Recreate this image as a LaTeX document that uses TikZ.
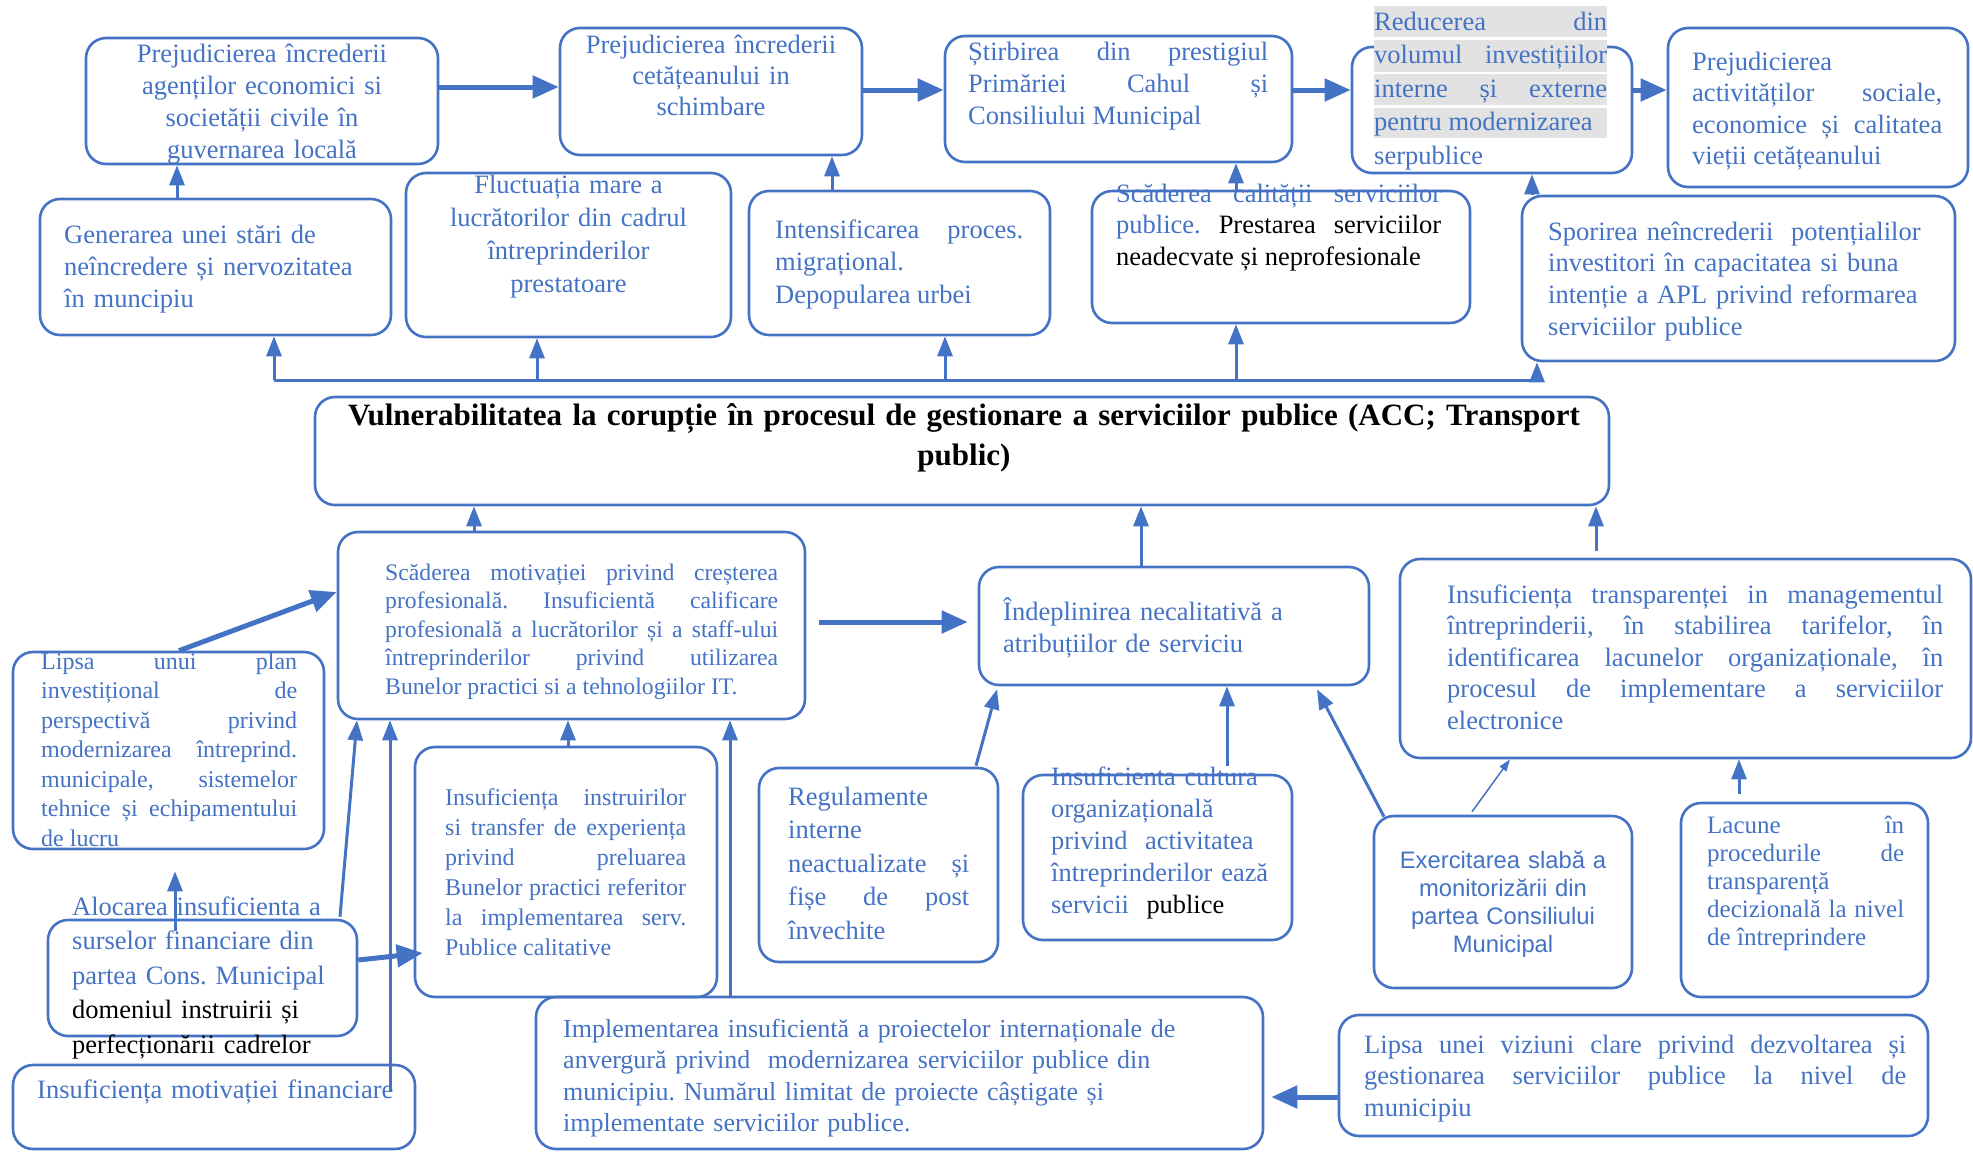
\documentclass[tikz,border=0pt]{standalone}
\usepackage{fontspec}
\setmainfont{Liberation Serif}
\newfontfamily\arialfam{Liberation Sans}
\usetikzlibrary{arrows.meta}
\definecolor{cblue}{RGB}{68,114,196}
\definecolor{hlgrey}{RGB}{226,226,226}
\tolerance=9999
\hbadness=10000
\hyphenpenalty=10000
\exhyphenpenalty=10000
\frenchspacing

\begin{document}
\begin{tikzpicture}[x=1pt, y=-1pt,
  box/.style={draw=cblue, line width=2.6pt, rounded corners=20pt, inner sep=0pt},
  txt/.style={text=cblue, inner sep=0pt, font=\fontsize{26.5}{32}\selectfont},
  wire/.style={draw=cblue, line width=3pt},
  arr/.style={wire, -{Triangle[length=20pt,width=15pt]}},
  bigarr/.style={draw=cblue, line width=5pt, -{Triangle[length=26pt,width=22pt]}},
  thinarr/.style={draw=cblue, line width=1.5pt, -{Triangle[length=12pt,width=8pt]}}]
  \useasboundingbox (0,0) rectangle (1973,1152);

  \node[box, minimum width=352, minimum height=126] (b1) at (262,101) {};
  \node[box, minimum width=302, minimum height=127] (b2) at (711,91.5) {};
  \node[box, minimum width=347, minimum height=126] (b3) at (1118.5,99) {};
  \node[box, minimum width=280, minimum height=126] (b4) at (1492,110) {};
  \node[box, minimum width=300, minimum height=159] (b5) at (1818,107.5) {};
  \node[box, minimum width=351, minimum height=136] (c1) at (215.5,267) {};
  \node[box, minimum width=325, minimum height=164] (c2) at (568.5,255) {};
  \node[box, minimum width=301, minimum height=144] (c3) at (899.5,263) {};
  \node[box, minimum width=378, minimum height=132] (c4) at (1281,257) {};
  \node[box, minimum width=433, minimum height=165] (c5) at (1738.5,278.5) {};
  \node[box, minimum width=1294, minimum height=108] (main) at (962,451) {};
  \node[box, minimum width=467, minimum height=187] (d1) at (571.5,625.5) {};
  \node[box, minimum width=390, minimum height=118] (e1) at (1174,626) {};
  \node[box, minimum width=571, minimum height=199] (f1) at (1685.5,658.5) {};
  \node[box, minimum width=311, minimum height=197] (g1) at (168.5,750.5) {};
  \node[box, minimum width=309, minimum height=116] (g2) at (202.5,978) {};
  \node[box, minimum width=402, minimum height=84] (g3) at (214,1107) {};
  \node[box, minimum width=302, minimum height=250] (h1) at (566,872) {};
  \node[box, minimum width=239, minimum height=194] (i1) at (878.5,865) {};
  \node[box, minimum width=727, minimum height=152] (i2) at (899.5,1073) {};
  \node[box, minimum width=269, minimum height=165] (i3) at (1157.5,857.5) {};
  \node[box, minimum width=258, minimum height=172] (j1) at (1503,902) {};
  \node[box, minimum width=247, minimum height=194] (k1) at (1804.5,900) {};
  \node[box, minimum width=589, minimum height=121] (l1) at (1633.5,1075.5) {};

  \fill[hlgrey] (1374,6) rectangle (1607,37);
  \fill[hlgrey] (1374,40) rectangle (1607,72);
  \fill[hlgrey] (1374,74) rectangle (1607,105);
  \fill[hlgrey] (1374,108) rectangle (1607,138);

  \draw[bigarr] ([yshift=14]b1.east) -- ([yshift=4.5]b2.west);
  \draw[bigarr] ([yshift=1.5]b2.east) -- ([yshift=9]b3.west);
  \draw[bigarr] ([yshift=9]b3.east) -- ([yshift=20]b4.west);
  \draw[bigarr] ([yshift=20]b4.east) -- ([yshift=17.5]b5.west);
  \draw[arr] ([xshift=-38.5]c1.north) -- ([xshift=-85]b1.south);
  \draw[arr] ([xshift=-67.5]c3.north) -- ([xshift=121]b2.south);
  \draw[arr] ([xshift=-45]c4.north) -- ([xshift=117.5]b3.south);
  \draw[arr] ([xshift=-206.5]c5.north) -- ([xshift=40]b4.south);

  \coordinate (bus1) at (274,380);
  \coordinate (bus2) at (537,380);
  \coordinate (bus3) at (945,380);
  \coordinate (bus4) at (1236,380);
  \coordinate (bus5) at (1537,380);
  \draw[wire] (bus1) -- (bus5);
  \draw[arr] (bus1) -- (bus1 |- c1.south);
  \draw[arr] (bus2) -- (bus2 |- c2.south);
  \draw[arr] (bus3) -- (bus3 |- c3.south);
  \draw[arr] (bus4) -- (bus4 |- c4.south);
  \draw[arr] (bus5) -- (bus5 |- c5.south);

  \draw[arr] ([xshift=-97.5]d1.north) -- ([xshift=-488]main.south);
  \draw[arr] ([xshift=-33]e1.north) -- ([xshift=179]main.south);
  \draw[arr] ([xshift=-89.5,yshift=7]f1.north) -- ([xshift=634]main.south);
  \draw[bigarr] ([xshift=13,yshift=3.5]d1.east) -- ([xshift=-10,yshift=4]e1.west);
  \draw[bigarr] ([xshift=10.5]g1.north) -- ([yshift=33.5]d1.west);
  \draw[arr] ([xshift=-27.5,yshift=-12]g2.north) -- ([xshift=6.5,yshift=-21]g1.south);
  \draw[arr] ([xshift=137.5,yshift=2]g2.north) -- ([xshift=-214.5]d1.south);
  \draw[arr] ([xshift=176,yshift=-28]g3.north) -- ([xshift=-181.5]d1.south);
  \draw[bigarr] ([yshift=18]g2.east) -- ([xshift=9,yshift=-81]h1.west);
  \draw[arr] ([xshift=2]h1.north) -- ([xshift=-3.5]d1.south);
  \draw[arr] ([xshift=-169.5]i2.north) -- ([xshift=158.5]d1.south);
  \draw[arr] ([xshift=97.5,yshift=1]i1.north) -- ([xshift=-177,yshift=-3]e1.south);
  \draw[arr] ([xshift=69.5,yshift=8]i3.north) -- ([xshift=53]e1.south);
  \draw[arr] ([xshift=-119,yshift=-2]j1.north) -- ([xshift=143,yshift=-3]e1.south);
  \draw[thinarr] ([xshift=-31,yshift=3]j1.north) -- ([xshift=-175.5]f1.south);
  \draw[arr] ([xshift=-65.5,yshift=8]k1.north) -- ([xshift=53.5]f1.south);
  \draw[bigarr] ([yshift=-21.5]l1.west) -- ([xshift=7,yshift=-24]i2.east);

  \node[txt, text width=340, align=center, anchor=base] (b1t) at (262,62)
    {Prejudicierea încrederii\\ agenților economici si\\ societății civile în\\ guvernarea locală};
  \node[txt, text width=290, align=center, anchor=base, font=\fontsize{26.5}{31}\selectfont] (b2t) at (711,53)
    {Prejudicierea încrederii\\ cetățeanului in\\ schimbare};
  \node[txt, text width=300, align=justify, anchor=base west] (b3t) at (968,60)
    {Știrbirea din prestigiul\linebreak Primăriei Cahul și\linebreak Consiliului Municipal};
  \node[txt, text width=233, align=justify, anchor=base west, font=\fontsize{26.5}{33.5}\selectfont] (b4t) at (1374,30)
    {Reducerea din\linebreak volumul investițiilor\linebreak interne și externe\linebreak pentru modernizarea\\ serpublice};
  \node[txt, text width=250, align=justify, anchor=base west, font=\fontsize{26.5}{31.5}\selectfont] (b5t) at (1692,70)
    {Prejudicierea\\ activităților sociale,\linebreak economice și calitatea\linebreak vieții cetățeanului};
  \node[txt, text width=330, align=left, anchor=base west] (c1t) at (64,243)
    {Generarea unei stări de\\ neîncredere și nervozitatea\\ în muncipiu};
  \node[txt, text width=315, align=center, anchor=base, font=\fontsize{26.5}{33.3}\selectfont] (c2t) at (568.5,193)
    {Fluctuația mare a\\ lucrătorilor din cadrul\\ întreprinderilor\\ prestatoare};
  \node[txt, text width=248, align=justify, anchor=base west, font=\fontsize{26.5}{32.5}\selectfont] (c3t) at (775,238)
    {Intensificarea proces.\linebreak migrațional.\\ Depopularea urbei};
  \node[txt, text width=325, align=justify, anchor=base west, font=\fontsize{26.5}{31.5}\selectfont] (c4t) at (1116,202)
    {Scăderea calității serviciilor\linebreak publice. {\color{black}Prestarea serviciilor}\linebreak {\color{black}neadecvate și neprofesionale}};
  \node[txt, text width=400, align=left, anchor=base west, font=\fontsize{26.5}{31.7}\selectfont] (c5t) at (1548,240)
    {Sporirea neîncrederii~ potențialilor\\ investitori în capacitatea si buna\\ intenție a APL privind reformarea\\ serviciilor publice};
  \node[txt, text=black, text width=1285, align=center, anchor=base, font=\fontsize{31}{40}\selectfont\bfseries] (maint) at (964,425)
    {Vulnerabilitatea la corupție în procesul de gestionare a serviciilor publice (ACC; Transport\\ public)};
  \node[txt, text width=393, align=justify, anchor=base west, font=\fontsize{23.7}{28.5}\selectfont] (d1t) at (385,580)
    {Scăderea motivației privind creșterea\linebreak profesională. Insuficientă calificare\linebreak profesională a lucrătorilor și a staff-ului\linebreak întreprinderilor privind utilizarea\linebreak Bunelor practici si a tehnologiilor IT.};
  \node[txt, text width=360, align=left, anchor=base west] (e1t) at (1003,620)
    {Îndeplinirea necalitativă a\\ atribuțiilor de serviciu};
  \node[txt, text width=496, align=justify, anchor=base west, font=\fontsize{26.5}{31.5}\selectfont] (f1t) at (1447,603)
    {Insuficiența transparenței in managementul\linebreak întreprinderii, în stabilirea tarifelor, în\linebreak identificarea lacunelor organizaționale, în\linebreak procesul de implementare a serviciilor\linebreak electronice};
  \node[txt, text width=256, align=justify, anchor=base west, font=\fontsize{24}{29.5}\selectfont] (g1t) at (41,669)
    {Lipsa unui plan\linebreak investițional de\linebreak perspectivă privind\linebreak modernizarea întreprind.\linebreak municipale, sistemelor\linebreak tehnice și echipamentului\linebreak de lucru};
  \node[txt, text width=290, align=left, anchor=base west, font=\fontsize{26.5}{34.5}\selectfont] (g2t) at (72,915)
    {Alocarea insuficienta a\\ surselor financiare din\\ partea Cons. Municipal\\ {\color{black}domeniul instruirii și}\\ {\color{black}perfecționării cadrelor}};
  \node[txt, text width=370, align=left, anchor=base west] (g3t) at (37,1098)
    {Insuficiența motivației financiare};
  \node[txt, text width=241, align=justify, anchor=base west, font=\fontsize{24}{30}\selectfont] (h1t) at (445,805)
    {Insuficiența instruirilor\linebreak si transfer de experiența\linebreak privind preluarea\linebreak Bunelor practici referitor\linebreak la implementarea serv.\linebreak Publice calitative};
  \node[txt, text width=181, align=justify, anchor=base west, font=\fontsize{26.5}{33.5}\selectfont] (i1t) at (788,805)
    {Regulamente\\ interne\\ neactualizate și\linebreak fișe de post\linebreak învechite};
  \node[txt, text width=230, align=left, anchor=base west, font=\fontsize{26.4}{32}\selectfont] (i3t) at (1051,785)
    {Insuficienta cultura\\ organizațională\\ privind~ activitatea\\ întreprinderilor ează\\ servicii~~{\color{black}publice}};
  \node[txt, text width=250, align=center, anchor=base, font=\fontsize{23.8}{28}\arialfam] (j1t) at (1503,868)
    {Exercitarea slabă a\\ monitorizării din\\ partea Consiliului\\ Municipal};
  \node[txt, text width=197, align=justify, anchor=base west, font=\fontsize{25}{28}\selectfont] (k1t) at (1707,833)
    {Lacune în\linebreak procedurile de\linebreak transparență\\ decizională la nivel\linebreak de întreprindere};
  \node[txt, text width=542, align=justify, anchor=base west, font=\fontsize{26.5}{31.5}\selectfont] (l1t) at (1364,1053)
    {Lipsa unei viziuni clare privind dezvoltarea și\linebreak gestionarea serviciilor publice la nivel de\linebreak municipiu};
  \node[txt, text width=690, align=left, anchor=base west, font=\fontsize{26}{31.5}\selectfont] (i2t) at (563,1037)
    {Implementarea insuficientă a proiectelor internaționale de\\ anvergură privind~ modernizarea serviciilor publice din\\ municipiu. Numărul limitat de proiecte câștigate și\\ implementate serviciilor publice.};
\end{tikzpicture}
\end{document}
